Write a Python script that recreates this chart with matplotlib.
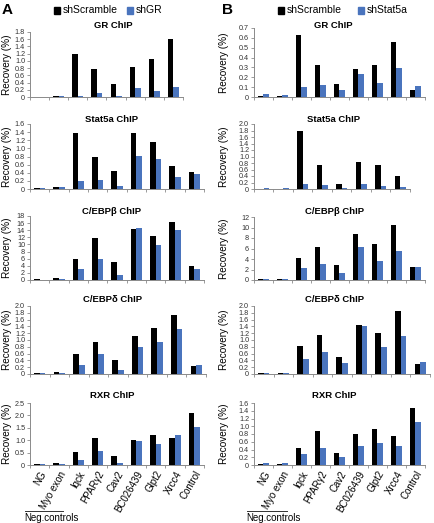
import numpy as np
import matplotlib
matplotlib.use("Agg")
import matplotlib.pyplot as plt
from matplotlib.ticker import FuncFormatter

W, H = 435, 523
DPI = 100

categories = ["NG", "Myo exon", "Iqck", "PPAR\u03b32", "Cav2", "BC026439", "Glpt2", "Xrcc4", "Control"]

# Panel A (shScramble vs shGR)
a_gr_scr = [0.01, 0.02, 1.18, 0.77, 0.35, 0.84, 1.05, 1.61]
a_gr_sh = [0.01, 0.03, 0.04, 0.12, 0.02, 0.24, 0.16, 0.29]
a_stat_scr = [0.03, 0.04, 1.38, 0.78, 0.44, 1.37, 1.16, 0.57, 0.42]
a_stat_sh = [0.03, 0.04, 0.19, 0.22, 0.07, 0.81, 0.73, 0.29, 0.36]
a_cebpb_scr = [0.3, 0.6, 6.0, 11.8, 5.1, 14.3, 12.4, 16.2, 3.8]
a_cebpb_sh = [0.1, 0.3, 3.1, 6.0, 1.3, 14.6, 9.8, 14.1, 3.2]
a_cebpd_scr = [0.04, 0.07, 0.60, 0.93, 0.42, 1.13, 1.36, 1.73, 0.25]
a_cebpd_sh = [0.04, 0.04, 0.26, 0.60, 0.12, 0.78, 0.95, 1.33, 0.27]
a_rxr_scr = [0.05, 0.07, 0.52, 1.08, 0.38, 1.00, 1.20, 1.10, 2.10]
a_rxr_sh = [0.05, 0.05, 0.20, 0.56, 0.10, 0.95, 0.84, 1.22, 1.53]

# Panel B (shScramble vs shStat5a)
b_gr_scr = [0.01, 0.01, 0.63, 0.32, 0.13, 0.28, 0.32, 0.56, 0.07]
b_gr_sh = [0.03, 0.02, 0.10, 0.12, 0.07, 0.23, 0.14, 0.29, 0.11]
b_stat_scr = [0.0, 0.0, 1.78, 0.73, 0.14, 0.83, 0.74, 0.40]
b_stat_sh = [0.03, 0.02, 0.14, 0.12, 0.03, 0.15, 0.09, 0.06]
b_cebpb_scr = [0.1, 0.2, 4.2, 6.3, 2.8, 8.7, 6.8, 10.5, 2.5]
b_cebpb_sh = [0.15, 0.15, 2.3, 3.1, 1.3, 6.2, 3.6, 5.6, 2.5]
b_cebpd_scr = [0.02, 0.03, 0.83, 1.14, 0.49, 1.45, 1.21, 1.86, 0.29]
b_cebpd_sh = [0.02, 0.03, 0.45, 0.66, 0.31, 1.40, 0.79, 1.11, 0.34]
b_rxr_scr = [0.03, 0.03, 0.45, 0.87, 0.32, 0.79, 0.92, 0.74, 1.48]
b_rxr_sh = [0.04, 0.05, 0.28, 0.45, 0.20, 0.49, 0.56, 0.48, 1.12]

titles = ["GR ChIP", "Stat5a ChIP", "C/EBP\u03b2 ChIP", "C/EBP\u03b4 ChIP", "RXR ChIP"]

BLACK = "#000000"
BLUE = "#4a74bd"
SPINE = "#8a8a8a"

fig = plt.figure(figsize=(W / DPI, H / DPI), dpi=DPI)
plt.rcParams['font.family'] = ['Liberation Sans', 'DejaVu Sans']


def box(l, t, r, b):
    return [l / W, 1 - b / H, (r - l) / W, (b - t) / H]


def fmt(step):
    def f(v, pos):
        if abs(v) < 1e-9:
            return "0"
        if step >= 1:
            return "%d" % round(v)
        return "%.1f" % v
    return FuncFormatter(f)


def panel(px, scr, sh, ymax, step, title, title_xy, ylab_x, xlabels=False):
    l, t, r, b = px
    ax = fig.add_axes(box(l, t, r, b))
    n = len(scr)
    x = np.arange(n)
    w = 0.29
    ax.bar(x - w / 2, scr, width=w, color=BLACK, linewidth=0)
    ax.bar(x + w / 2, sh, width=w, color=BLUE, linewidth=0)
    ax.set_xlim(-0.5, n - 0.5)
    ax.set_ylim(0, ymax)
    ax.set_yticks(np.arange(0, ymax + step / 2, step))
    ax.yaxis.set_major_formatter(fmt(step))
    ax.set_xticks(np.arange(-0.5, n, 1.0))
    ax.set_xticklabels([])
    for s in ["top", "right"]:
        ax.spines[s].set_visible(False)
    for s in ["left", "bottom"]:
        ax.spines[s].set_color(SPINE)
        ax.spines[s].set_linewidth(0.7)
    ax.tick_params(axis="y", length=2, width=0.6, color=SPINE, labelsize=5.2, pad=1.5, labelcolor="#333333")
    ax.tick_params(axis="x", length=2.5, width=0.6, color=SPINE)
    fig.text(title_xy[0] / W, 1 - title_xy[1] / H, title, fontsize=6.8, fontweight="bold",
             ha="center", va="center")
    fig.text(ylab_x / W, 1 - ((t + b) / 2) / H, "Recovery (%)", fontsize=7.2, rotation=90,
             ha="center", va="center")
    if xlabels:
        ax.set_xticks(x, minor=True)
        ax.set_xticklabels(categories[:n], minor=True, rotation=60, ha="right",
                           rotation_mode="anchor", fontsize=7)
        ax.tick_params(axis="x", which="minor", length=0, pad=3)
    return ax


# Panel A
YA, YB = 7, 224
panel((30, 32, 183, 97), a_gr_scr, a_gr_sh, 1.8, 0.2, titles[0], (113, 25), YA)
panel((30, 124, 204, 189), a_stat_scr, a_stat_sh, 1.6, 0.2, titles[1], (112, 119), YA)
panel((30, 216, 204, 280), a_cebpb_scr, a_cebpb_sh, 18, 2, titles[2], (112, 211), YA)
panel((30, 306, 206, 374), a_cebpd_scr, a_cebpd_sh, 2.0, 0.2, titles[3], (113, 300), YA)
panel((30, 403, 204, 465), a_rxr_scr, a_rxr_sh, 2.5, 0.5, titles[4], (112, 396), YA, xlabels=True)

# Panel B
panel((254, 28, 425, 97), b_gr_scr, b_gr_sh, 0.7, 0.1, titles[0], (333, 25), YB)
panel((254, 124, 410, 189), b_stat_scr, b_stat_sh, 2.0, 0.2, titles[1], (334, 119), YB)
panel((254, 217, 425, 280), b_cebpb_scr, b_cebpb_sh, 12, 2, titles[2], (335, 211), YB)
panel((254, 306, 430, 374), b_cebpd_scr, b_cebpd_sh, 2.0, 0.2, titles[3], (335, 300), YB)
panel((254, 403, 425, 465), b_rxr_scr, b_rxr_sh, 1.6, 0.2, titles[4], (334, 396), YB, xlabels=True)

# Panel letters
fig.text(2 / W, 1 - 10 / H, "A", fontsize=11, fontweight="bold", va="center", ha="left")
fig.text(222 / W, 1 - 10 / H, "B", fontsize=11, fontweight="bold", va="center", ha="left")


def legend_item(xpx, ypx, color, label):
    fig.patches.append(matplotlib.patches.Rectangle((xpx / W, 1 - (ypx + 3.5) / H), 6 / W, 7 / H,
                                                    transform=fig.transFigure, color=color))
    fig.text((xpx + 9) / W, 1 - ypx / H, label, fontsize=7.5, va="center", ha="left")


legend_item(54, 10, BLACK, "shScramble")
legend_item(127, 10, BLUE, "shGR")
legend_item(278, 10, BLACK, "shScramble")
legend_item(358, 10, BLUE, "shStat5a")

# Neg. controls annotation
for x0, x1 in [(25, 63), (247, 287)]:
    fig.add_artist(matplotlib.lines.Line2D([x0 / W, x1 / W], [1 - 511 / H, 1 - 511 / H],
                                           color="#333333", linewidth=0.7))
    fig.text(x0 / W - 1 / W, 1 - 518 / H, "Neg.controls", fontsize=7, va="center", ha="left")

fig.savefig("out.png", dpi=DPI)
